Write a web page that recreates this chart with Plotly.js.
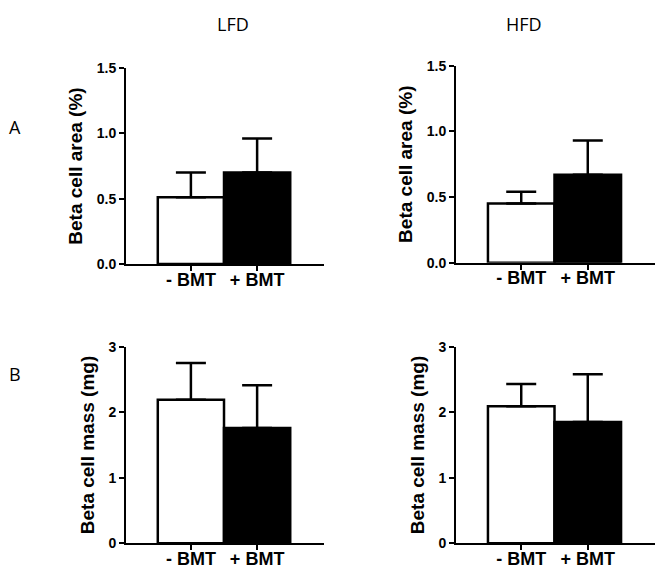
<!DOCTYPE html>
<html><head><meta charset="utf-8">
<script src="https://cdn.plot.ly/plotly-3.0.1.min.js"></script>
<style>html,body{margin:0;padding:0;background:#fff}#c{width:655px;height:569px}</style>
</head><body><div id="c"></div>
<script>
const categories = ['- BMT', '+ BMT'];
const barColors = ['#ffffff', '#000000'];
const areaLFD = [0.51, 0.70];
const areaLFDerr = [0.19, 0.26];
const areaHFD = [0.45, 0.67];
const areaHFDerr = [0.09, 0.26];
const massLFD = [2.19, 1.76];
const massLFDerr = [0.56, 0.65];
const massHFD = [2.09, 1.85];
const massHFDerr = [0.34, 0.73];
const areaTicks = [0, 0.5, 1.0, 1.5];
const areaTickText = ['0.0', '0.5', '1.0', '1.5'];
const massTicks = [0, 1, 2, 3];
const areaTitle = 'Beta cell area (%)';
const massTitle = 'Beta cell mass (mg)';
const colTitles = ['LFD', 'HFD'];
const rowTitles = ['A', 'B'];

const W = 655, H = 569;
const LBL = 'Liberation Sans, Arial, sans-serif';

function bar(y, err, xa, ya) {
  return {
    type: 'bar', x: categories, y: y, xaxis: xa, yaxis: ya,
    width: 1,
    marker: {color: barColors, line: {color: '#000', width: 2.5}},
    error_y: {type: 'data', array: err, arrayminus: [0, 0], symmetric: false,
              color: '#000', thickness: 2.5, width: 15},
    hoverinfo: 'none', showlegend: false
  };
}

const data = [
  bar(areaLFD, areaLFDerr, 'x', 'y'),
  bar(areaHFD, areaHFDerr, 'x2', 'y2'),
  bar(massLFD, massLFDerr, 'x3', 'y3'),
  bar(massHFD, massHFDerr, 'x4', 'y4')
];

function xax(px0, px1, anchor) {
  return {
    domain: [px0 / W, px1 / W], anchor: anchor,
    range: [-0.98, 2.01], showgrid: false, zeroline: false,
    showline: true, linecolor: '#000', linewidth: 2,
    ticks: 'outside', ticklen: 5, tickwidth: 2, tickcolor: '#000',
    ticklabelstandoff: -7,
    tickfont: {family: LBL, size: 18, color: '#000', weight: 'bold'},
    fixedrange: true
  };
}
function yax(pyTop, pyBot, anchor, range, tv, tt, title) {
  return {
    domain: [1 - pyBot / H, 1 - pyTop / H], anchor: anchor,
    range: range, showgrid: false, zeroline: false,
    showline: true, linecolor: '#000', linewidth: 2,
    ticks: 'outside', ticklen: 5, tickwidth: 2, tickcolor: '#000',
    tickvals: tv, ticktext: tt,
    tickfont: {family: LBL, size: 14, color: '#000', weight: 'bold'},
    title: {text: title, standoff: 9, font: {family: LBL, size: 19, color: '#000', weight: 'bold'}},
    fixedrange: true
  };
}

const layout = {
  width: W, height: H,
  margin: {l: 0, r: 0, t: 0, b: 0},
  paper_bgcolor: '#fff', plot_bgcolor: 'rgba(0,0,0,0)',
  bargap: 0,
  xaxis: xax(126, 324, 'y'),
  yaxis: yax(68, 264, 'x', [0, 1.5], areaTicks, areaTickText, areaTitle),
  xaxis2: xax(456, 655, 'y2'),
  yaxis2: yax(65.7, 262.7, 'x2', [0, 1.5], areaTicks, areaTickText, areaTitle),
  xaxis3: xax(126, 324, 'y3'),
  yaxis3: yax(346.7, 543.3, 'x3', [0, 3], massTicks, massTicks.map(String), massTitle),
  xaxis4: xax(456, 655, 'y4'),
  yaxis4: yax(346.7, 543.3, 'x4', [0, 3], massTicks, massTicks.map(String), massTitle),
  annotations: [
    {text: colTitles[0], x: 233 / W, y: 1 - 10 / H, xref: 'paper', yref: 'paper', showarrow: false,
     font: {family: 'Open Sans, sans-serif', size: 18, color: '#000'}},
    {text: colTitles[1], x: 544 / W, y: 1 - 10 / H, xref: 'paper', yref: 'paper', showarrow: false,
     font: {family: 'Open Sans, sans-serif', size: 18, color: '#000'}},
    {text: rowTitles[0], x: 7 / W, y: 1 - 113 / H, xref: 'paper', yref: 'paper', showarrow: false,
     font: {family: 'Open Sans, sans-serif', size: 18, color: '#000'}},
    {text: rowTitles[1], x: 7 / W, y: 1 - 374 / H, xref: 'paper', yref: 'paper', showarrow: false,
     font: {family: 'Open Sans, sans-serif', size: 18, color: '#000'}}
  ]
};

Plotly.newPlot('c', data, layout, {displayModeBar: false, staticPlot: true});
</script></body></html>
